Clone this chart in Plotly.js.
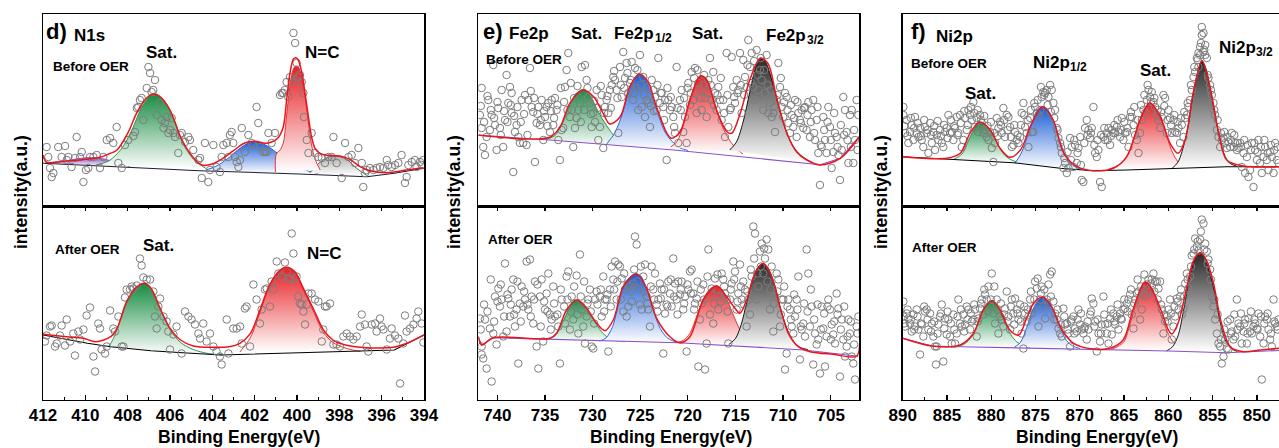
<!DOCTYPE html>
<html>
<head>
<meta charset="utf-8">
<script src="https://cdn.plot.ly/plotly-3.0.1.min.js"></script>
<style>html,body{margin:0;padding:0;background:#fff;}#chart{width:1279px;height:448px;}</style>
</head>
<body>
<div id="chart"></div>
<script>
// ---------------- N1s (panel d) ----------------
const dTopX = [411.83,411.75,411.67,411.59,411.51,411.28,411.12,410.96,410.88,410.80,
410.65,410.49,410.41,410.25,410.17,410.09,409.97,409.86,409.78,409.62,
409.46,409.31,409.15,408.99,408.83,408.68,408.52,408.44,408.28,408.13,
407.97,407.73,407.65,407.57,407.50,407.42,407.34,407.26,407.10,407.02,
406.94,406.87,406.79,406.71,406.63,406.47,406.39,406.31,406.24,406.16,
406.08,406.00,405.92,405.84,405.76,405.61,405.53,405.45,405.29,405.13,
405.06,404.90,404.66,404.58,404.50,404.35,404.19,404.11,403.95,403.80,
403.64,403.56,403.48,403.32,403.24,403.17,403.09,403.01,402.93,402.85,
402.77,402.69,402.61,402.46,402.30,402.14,402.06,401.91,401.83,401.75,
401.59,401.51,401.43,401.35,401.20,401.04,400.80,400.72,400.65,400.57,
400.49,400.41,400.33,400.25,400.17,400.09,400.02,399.94,399.86,399.78,
399.70,399.67,399.54,399.46,399.31,399.15,398.99,398.83,398.68,398.52,
398.36,398.28,398.13,397.89,397.73,397.57,397.42,397.26,397.10,396.94,
396.87,396.79,396.71,396.55,396.39,396.24,396.08,395.92,395.76,395.69,
395.53,395.37,395.21,395.06,394.90,394.82,394.74,394.58,394.43,394.35,
394.19,394.11,394.03];
const dTopY = [59,49,38,29,33,59,49,60,46,49,
39,48,69,49,54,24,36,38,49,49,
51,38,49,66,68,63,79,43,38,61,
66,70,74,98,99,106,108,86,118,139,
133,114,116,126,91,103,86,78,83,89,
73,76,88,73,69,53,71,73,64,69,
66,56,46,48,28,63,24,36,61,39,
34,49,61,63,49,71,74,63,49,44,
39,46,78,54,71,63,61,99,83,59,
54,54,54,73,63,73,111,113,113,116,
124,109,129,124,173,163,143,129,131,124,
113,89,66,53,73,53,49,48,43,49,
49,69,43,28,63,49,51,43,58,43,
19,33,36,38,36,38,39,38,46,41,
39,41,43,51,23,29,41,44,46,39,
44,41,46];
const dTopBaseX = [412.0,409.3,404.6,399.9,398.3,396.7,395.4,394.0];
const dTopBaseY = [42.7,40,35.3,32,30.3,29.3,32.7,37.7];
const dTopPurpleX = [411.9,411.0,410.3,409.7,409.1,408.5,407.9];
const dTopPurpleY = [43,45,47.5,48.5,47,43,39.5];
const dTopSatX = [409.5,408.9,408.3,407.8,407.3,406.8,406.3,405.8,405.4,404.9,404.3];
const dTopSatY = [41,45,57,76,100,112,106,86,63,47,37.5];
const dTopBlueX = [404.3,403.8,403.3,402.8,402.3,402.0,401.7,401.4,401.0,400.6,400.2,399.8,399.4,399.0];
const dTopBlueY = [36,40,47,56,63,64.5,63,60,54,48,42,37.5,34.5,32.5];
const dTopNCX = [401.02,400.98,400.8,400.65,400.49,400.33,400.17,400.06,399.94,399.78,399.62,399.46,399.31,399.15,398.9];
const dTopNCY = [34,52,56,63,91,121,137,140,139,129,109,83,61,47,36];
const dTopSmallX = [399.4,398.9,398.5,398.0,397.6,397.2,396.7];
const dTopSmallY = [33,44,49,49.5,46,38,30.5];
const dTopEnvX = [412.0,411.85,411.0,410.0,409.3,408.9,408.5,408.0,407.5,407.0,406.75,406.5,406.0,405.5,405.0,404.5,404.0,403.5,403.0,402.5,402.0,401.5,401.2,400.9,400.65,400.49,400.33,400.17,400.06,399.94,399.78,399.62,399.46,399.31,399.15,398.91,398.6,397.97,397.5,397.02,396.55,395.76,394.82,394.03];
const dTopEnvY = [51,44,44.7,46.7,48.7,52,56,72.7,96,110,112,110,96,69,51,41,42,47.7,55.3,62.7,64.7,62.7,64,68,79,106,133,147,148.3,146,134,112.7,89,69,57.7,52.7,50.7,50,46.7,39.3,35.3,33.3,36,38.3];

const dBotX = [411.91,411.83,411.67,411.59,411.43,411.35,411.20,411.12,410.96,410.88,
410.72,410.57,410.49,410.33,410.25,410.09,409.94,409.78,409.62,409.54,
409.39,409.31,409.23,409.07,408.99,408.83,408.68,408.60,408.44,408.28,
408.20,408.13,408.05,407.89,407.81,407.73,407.57,407.42,407.34,407.26,
407.10,406.94,406.79,406.71,406.63,406.55,406.47,406.31,406.16,406.08,
406.00,405.84,405.69,405.45,405.29,405.13,404.98,404.82,404.66,404.58,
404.43,404.27,404.11,403.95,403.80,403.64,403.56,403.32,403.24,403.01,
402.85,402.69,402.61,402.46,402.38,402.22,402.06,401.91,401.75,401.67,
401.51,401.43,401.28,401.20,401.12,400.96,400.88,400.72,400.57,400.49,
400.41,400.33,400.25,400.17,400.09,400.02,399.94,399.86,399.78,399.70,
399.62,399.54,399.46,399.31,399.15,398.99,398.83,398.76,398.68,398.60,
398.44,398.28,398.13,397.97,397.81,397.65,397.50,397.34,397.18,397.02,
396.94,396.79,396.71,396.63,396.47,396.31,396.24,396.08,396.00,395.92,
395.76,395.61,395.53,395.37,395.21,395.13,394.98,394.90,394.82,394.66,
394.50,394.35,394.27,394.11,394.03];
const dBotY = [58,64,73,74,53,56,64,74,54,80,
58,66,44,68,60,70,84,92,43,28,
76,71,50,46,53,89,71,68,83,53,
53,102,110,110,113,111,114,141,134,122,
120,120,108,83,71,93,101,83,78,68,
50,65,73,46,88,83,80,75,66,61,
76,58,66,53,48,43,35,80,46,71,
71,73,56,91,93,53,115,100,76,90,
110,111,93,118,110,138,126,123,137,128,
121,120,166,146,121,123,103,96,95,88,
75,95,106,106,100,98,58,70,93,93,
96,55,55,53,63,66,63,60,63,73,
85,75,53,48,75,76,68,81,73,70,
50,61,71,64,61,16,56,84,68,71,
75,81,88,76,57];
const dBotBaseX = [412.0,409.9,408.8,406.9,405.4,403.6,399.9,395.4,394.0];
const dBotBaseY = [64.5,56.2,52.8,48.8,46.8,44.5,46.8,49.5,64.5];
const dBotSatX = [408.9,408.7,408.5,408.05,407.6,407.2,406.9,406.5,406.0,405.5,404.9,404.2,403.5];
const dBotSatY = [52.5,60,70,96,111,116,111,92,70,57,50,46,44.6];
const dBotNCX = [402.7,402.2,401.75,401.3,400.8,400.5,400.1,399.7,399.2,398.75,398.3,397.65,397.0];
const dBotNCY = [47.5,62,87,113,129,132,127,110,87,67,57,51,48];
const dBotEnvX = [412.0,410.9,410.1,409.5,408.8,408.5,408.05,407.6,407.2,406.9,406.5,406.0,405.5,404.9,403.95,403.2,402.7,402.2,401.75,401.3,400.8,400.5,400.1,399.7,399.2,398.75,398.3,397.65,396.7,395.45,394.8,394.0];
const dBotEnvY = [65.2,62.8,61.2,57.8,62.8,71.2,97.8,112,116.2,111.2,92.8,71.2,59.5,53.5,52.2,52.8,56.2,66.2,89.5,114.5,129.5,132.2,127.8,111.2,89.5,69.5,59.5,54.2,51.8,52.2,56.2,64.5];

// ---------------- Fe2p (panel e) ----------------
const eTopX = [741.83,741.65,741.65,741.48,741.30,741.13,740.95,740.78,740.60,740.43,
740.25,740.08,739.90,739.73,739.55,739.38,739.20,739.03,738.85,738.68,
738.50,738.50,738.33,738.15,737.98,737.80,737.63,737.45,737.28,737.10,
736.93,736.75,736.58,736.40,736.23,736.05,735.88,735.70,735.53,735.35,
735.18,735.00,734.83,734.65,734.48,734.30,734.13,733.95,733.78,733.60,
733.43,733.25,733.08,732.90,732.73,732.55,732.38,732.20,732.03,731.85,
731.68,731.50,731.33,731.15,730.98,730.80,730.63,730.45,730.28,730.10,
729.93,729.75,729.58,729.40,729.23,729.05,728.88,728.70,728.53,728.35,
728.18,728.00,727.83,727.65,727.48,727.30,727.13,726.95,726.78,726.60,
726.43,726.25,726.08,725.90,725.73,725.55,725.38,725.20,725.03,724.85,
724.68,724.50,724.33,724.15,723.98,723.80,723.63,723.45,723.28,723.10,
722.93,722.75,722.58,722.40,722.23,722.05,721.88,721.70,721.53,721.35,
721.18,721.00,720.83,720.65,720.48,720.30,720.13,719.95,719.78,719.60,
719.43,719.25,719.08,718.90,718.73,718.55,718.38,718.20,718.03,717.85,
717.68,717.50,717.33,717.15,716.98,716.80,716.63,716.45,716.28,716.10,
715.93,715.75,715.58,715.40,715.23,715.05,714.88,714.70,714.53,714.35,
714.18,714.00,713.83,713.65,713.48,713.30,713.13,712.95,712.78,712.60,
712.43,712.25,712.08,711.90,711.73,711.55,711.38,711.20,711.03,710.85,
710.68,710.50,710.33,710.15,709.98,709.80,709.63,709.45,709.28,709.10,
708.93,708.75,708.58,708.40,708.23,708.05,707.88,707.70,707.53,707.35,
707.18,707.00,706.83,706.65,706.48,706.30,706.13,705.95,705.78,705.60,
705.43,705.25,705.08,704.90,704.73,704.55,704.38,704.20,704.03,703.85,
703.68,703.50,703.33,703.15,702.98,702.80,702.63,702.45,702.28,702.10];
const eTopY = [91,118,78,59,51,69,106,76,91,141,
81,56,98,78,116,59,86,131,103,119,
113,93,34,74,81,69,63,106,63,111,
61,106,138,99,94,44,83,99,81,106,
66,89,99,103,74,106,81,108,96,66,
46,76,78,119,136,153,89,96,59,78,
88,96,103,139,113,141,126,109,103,79,
93,84,116,66,79,111,58,99,106,93,
116,121,129,126,116,73,139,109,154,128,
143,113,123,144,106,138,118,96,151,99,
129,89,106,103,79,126,116,109,96,148,
103,113,99,106,46,106,96,99,89,73,
139,63,106,116,74,89,63,123,101,134,
106,138,93,123,116,96,121,108,89,126,
148,106,134,113,96,119,106,86,106,69,
153,79,96,149,119,103,126,116,153,93,
146,129,119,166,139,153,119,106,156,116,
136,126,96,113,151,93,103,89,93,74,
106,143,119,99,89,113,109,83,73,91,
79,106,69,93,86,96,78,99,76,104,
69,96,106,66,86,53,21,59,89,66,
53,99,79,38,54,73,69,51,26,56,
109,96,74,43,91,96,43,66,106,91];
// second, interleaved set of Fe2p readings (shared energies for both scans)
const eX2 = [741.74,741.39,741.04,740.69,740.34,739.99,739.64,739.29,738.94,738.59,738.24,737.89,737.54,737.19,736.84,736.49,736.14,735.79,735.44,735.09,734.74,
734.39,734.04,733.69,733.34,732.99,732.64,732.29,731.94,731.59,731.24,730.89,730.54,730.19,729.84,729.49,729.14,728.79,728.44,728.09,727.74,727.39,
727.04,726.69,726.34,725.99,725.64,725.29,724.94,724.59,724.24,723.89,723.54,723.19,722.84,722.49,722.14,721.79,721.44,721.09,
720.74,720.39,720.04,719.69,719.34,718.99,718.64,718.29,717.94,717.59,717.24,716.89,716.54,716.19,715.84,715.49,715.14,
714.79,714.44,714.09,713.74,713.39,713.04,712.69,712.34,711.99,711.64,711.29,710.94,710.59,710.24,709.89,709.54,709.19,708.84,
708.49,708.14,707.79,707.44,707.09,706.74,706.39,706.04,705.69,705.34,704.99,704.64,704.29,703.94,703.59,703.24,702.89,702.54,702.19];
const eTopY2 = [100,84,110,96,88,104,71,95,84,101,90,99,84,92,71,115,108,92,86,95,80,
95,88,101,118,104,96,123,108,120,84,96,118,92,105,98,120,93,110,98,135,108,
121,118,133,126,113,136,121,111,118,100,95,121,113,86,118,109,79,98,
96,108,118,113,128,136,108,131,113,121,101,111,128,93,111,98,109,
113,121,111,141,123,145,131,148,136,121,116,99,111,128,104,96,101,88,
104,83,98,91,84,73,99,61,76,84,66,93,59,81,71,66,59,76,56];
const eTopBaseX = [742,734.5,721.5,711.0,706.1,704.0,702.0];
const eTopBaseY = [70.7,66,56,46,41.3,47.7,69.3];
const eTopSatAX = [735.0,734.0,733.2,732.4,731.7,731.0,730.3,729.6,728.9,728.2,727.4,726.5,725.6];
const eTopSatAY = [66.5,70,82,101,113,116,111,98,86,76,66,61.5,59.5];
const eTopP12X = [728.6,728.2,727.8,727.1,726.4,725.7,725.1,724.5,723.8,723.1,722.4,721.7,720.9,720.0];
const eTopP12Y = [61,66,71,86,108,126,132,127,111,91,74,65,58.5,55.5];
const eTopSatBX = [721.8,721.1,720.4,719.8,719.2,718.7,718.1,717.5,716.9,716.3,715.7,715.0,714.2];
const eTopSatBY = [59,65,84,104,122,130,127,113,94,78,67,58,52];
const eTopP32X = [715.6,714.9,714.2,713.5,712.9,712.4,711.9,711.3,710.7,710.0,709.3,708.6,707.8,707.0];
const eTopP32Y = [56,64,84,114,138,148,145,130,108,84,66,55,48,43.5];
const eTopEnvX = [742,734.5,733.4,732.4,731.0,729.9,728.9,728.2,727.1,726.1,725.1,724.2,723.3,722.2,721.7,720.8,719.8,718.7,718.0,717.0,715.9,715.4,714.5,713.5,712.4,711.6,710.7,709.6,708.6,707.5,706.1,704.0,702.0];
const eTopEnvY = [71,68.7,79.3,102.7,116,109.3,92.7,82,89.3,119.3,132,124.3,99.3,72.7,67.7,74.3,106,130,126,96,74.3,72.7,92.7,126,147.7,142.7,109.3,72.7,54.3,46,41,47.7,69.3];

const eBotX = [741.83,741.65,741.65,741.48,741.30,741.13,740.78,740.60,740.43,740.25,
740.08,739.90,739.73,739.55,739.38,739.20,739.03,738.85,738.68,738.50,
738.33,738.15,737.98,737.80,737.63,737.45,737.28,737.10,736.93,736.75,
736.58,736.40,736.23,736.05,735.88,735.70,735.53,735.35,735.18,735.00,
734.83,734.65,734.48,734.30,734.13,733.95,733.60,733.43,733.25,732.90,
732.73,732.55,732.38,732.20,732.03,731.85,731.68,731.50,731.33,731.15,
730.98,730.80,730.63,730.45,730.28,730.10,729.93,729.75,729.58,729.23,
729.05,728.88,728.70,728.53,728.35,728.18,728.00,727.83,727.65,727.48,
727.30,727.13,726.95,726.78,726.60,726.43,726.25,726.08,725.90,725.73,
725.55,725.38,725.20,725.03,724.85,724.68,724.50,724.33,724.15,723.98,
723.80,723.63,723.45,723.28,723.10,722.93,722.75,722.58,722.40,722.23,
722.05,721.88,721.70,721.53,721.35,721.18,721.00,720.83,720.65,720.48,
720.30,720.13,719.95,719.78,719.60,719.43,719.25,719.08,718.90,718.73,
718.55,718.38,718.20,718.03,717.85,717.68,717.50,717.33,717.15,716.98,
716.80,716.63,716.45,716.28,716.10,715.93,715.75,715.58,715.40,715.23,
715.05,714.88,714.70,714.53,714.35,714.18,714.00,713.83,713.65,713.48,
713.30,713.13,712.95,712.78,712.60,712.43,712.25,712.08,711.90,711.73,
711.55,711.38,711.20,711.03,710.85,710.68,710.50,710.33,710.15,709.98,
709.80,709.63,709.45,709.28,709.10,708.93,708.75,708.58,708.40,708.23,
708.05,707.88,707.70,707.53,707.35,707.18,707.00,706.83,706.65,706.48,
706.30,706.13,705.95,705.78,705.60,705.43,705.25,705.08,704.90,704.73,
704.55,704.38,704.20,704.03,703.85,703.68,703.50,703.33,703.15,702.98,
702.80,702.63,702.45,702.28,702.10];
const eBotY = [81,53,45,41,80,31,71,18,66,103,
55,111,93,100,63,136,68,101,83,110,
120,73,90,36,96,113,93,100,138,90,
140,103,76,118,53,31,103,120,58,90,
106,126,85,80,113,83,73,36,100,76,
123,128,70,103,80,96,124,66,145,90,
73,56,83,100,110,53,51,100,108,103,
83,123,100,100,48,110,133,120,138,100,
135,133,121,88,110,83,93,113,98,116,
163,155,110,95,90,123,135,103,90,73,
133,110,126,95,100,116,110,46,86,95,
118,106,93,141,116,100,118,105,118,90,
103,48,110,128,130,106,96,101,33,80,
96,115,30,56,150,85,111,76,121,110,
90,103,126,120,106,100,56,100,116,138,
128,90,106,135,100,118,110,73,100,85,
123,173,166,100,113,148,156,126,141,160,
150,90,133,68,103,126,120,73,100,100,
30,46,100,90,73,66,83,100,123,40,
70,76,63,150,126,73,93,35,66,55,
60,26,93,71,33,63,100,90,75,65,
56,106,91,23,80,60,43,53,80,66,
43,36,20,73,83];
const eBotY2 = [70,95,88,120,78,98,115,83,105,95,85,118,78,108,95,83,100,115,73,98,88,
70,96,85,110,93,100,88,113,85,103,118,96,88,76,95,110,88,105,93,110,118,
100,126,115,108,130,118,133,108,96,113,100,88,101,110,93,120,103,85,
110,96,115,106,90,118,110,100,123,106,96,125,98,113,88,110,120,
98,113,95,108,130,141,126,133,151,118,110,96,108,85,113,93,80,105,
90,73,96,88,110,80,95,70,86,93,60,78,85,70,93,63,78,55,66];
const eBotBaseX = [742,741.65,740.43,734.5,721,707.8,702.1];
const eBotBaseY = [62.8,54.5,61.8,60.2,56.8,49.5,43.3];
const eBotSatAX = [734.7,733.9,733.1,732.4,731.7,731.0,730.3,729.6,728.9,728.2,727.4,726.6];
const eBotSatAY = [60.3,64,78,92,99.5,96,86,75,66,61,58.5,57.8];
const eBotP12X = [729.3,728.6,727.9,727.2,726.5,725.6,725.0,724.3,723.6,722.9,722.2,721.4,720.6];
const eBotP12Y = [58.5,61.5,73,98,118,125.5,124,110,89,71,62,58,56.5];
const eBotSatBX = [721.3,720.5,719.8,719.0,718.3,717.6,717.0,716.4,715.8,715.2,714.6,713.9,713.2,712.4];
const eBotSatBY = [56.8,59,66,85,102,111,113.5,109,98,84,71,60,55.5,53.5];
const eBotP32X = [715.7,715.0,714.4,713.8,713.2,712.6,712.1,711.5,710.9,710.3,709.6,708.9,708.2,707.4];
const eBotP32Y = [55,61,75,98,120,133,136,130,115,92,71,58,52,50];
const eBotEnvX = [742,741.65,740.43,734.48,733.78,732.73,731.68,730.63,729.58,728.70,727.83,726.78,725.38,724.33,723.28,721.88,720.83,719.78,718.38,716.98,715.93,715.05,714.53,713.83,712.95,712.08,711.20,710.33,709.45,708.40,707.18,704.73,702.28,702.0];
const eBotEnvY = [62.8,54.5,61.8,61.2,66.2,89.5,99.5,91.2,76.2,68.8,79.5,112.8,125.5,111.2,81.2,62.8,56.8,62.8,99.5,113.5,102.8,91.2,86.2,99.5,126.2,136.2,122.8,92.8,66.2,52.8,47.8,45.2,43.5,71.2];

// ---------------- Ni2p (panel f) ----------------
const fTopX = [889.92,889.92,889.74,889.55,889.36,889.17,888.98,888.79,888.61,888.42,
888.23,888.04,887.85,887.67,887.48,887.29,887.10,886.91,886.72,886.54,
886.35,886.16,885.97,885.78,885.59,885.41,885.22,885.03,884.84,884.65,
884.46,884.28,884.09,883.90,883.71,883.52,883.33,883.15,882.96,882.77,
882.58,882.39,882.20,882.02,881.83,881.64,881.45,881.26,881.07,880.89,
880.70,880.51,880.32,880.13,879.94,879.76,879.57,879.38,879.19,879.00,
878.81,878.63,878.44,878.25,878.06,877.87,877.68,877.50,877.31,877.12,
876.93,876.74,876.56,876.37,876.18,875.99,875.80,875.61,875.43,875.24,
875.05,874.86,874.67,874.48,874.30,874.11,873.92,873.73,873.54,873.35,
873.17,872.98,872.79,872.60,872.41,872.22,872.04,871.85,871.66,871.47,
871.28,871.09,870.91,870.72,870.53,870.34,870.15,869.96,869.78,869.59,
869.40,869.21,869.02,868.83,868.65,868.46,868.27,868.08,867.89,867.71,
867.52,867.33,867.14,866.95,866.76,866.58,866.39,866.20,866.01,865.82,
865.63,865.45,865.26,865.07,864.88,864.69,864.50,864.32,864.13,863.94,
863.75,863.56,863.37,863.19,863.00,862.81,862.62,862.43,862.24,862.06,
861.87,861.68,861.49,861.30,861.11,860.93,860.74,860.55,860.36,860.17,
859.98,859.80,859.61,859.42,859.23,859.04,858.85,858.67,858.48,858.29,
858.10,857.91,857.73,857.54,857.35,857.16,856.97,856.78,856.60,856.41,
856.22,856.03,855.84,855.65,855.47,855.28,855.09,854.90,854.71,854.52,
854.34,854.15,853.96,853.77,853.58,853.39,853.21,853.02,852.83,852.64,
852.45,852.26,852.08,851.89,851.70,851.51,851.32,851.13,850.95,850.76,
850.57,850.38,850.19,850.00,849.82,849.63,849.44,849.25,849.06,848.87,
848.69,848.50,848.31,848.12,847.93,847.74,847.56,856.41,856.22,856.03,
856.60,855.84];
const fTopY = [99,91,73,86,63,74,81,66,89,73,
69,78,66,59,79,73,53,83,63,74,
56,71,66,76,63,59,74,78,91,73,
74,66,78,89,73,91,59,66,88,76,
96,91,86,104,79,88,74,91,83,73,
76,69,66,74,58,44,63,88,78,84,
73,98,69,91,89,79,59,61,74,66,
63,69,93,103,79,73,59,88,74,74,
99,93,91,96,109,114,113,116,109,121,
116,103,96,78,68,63,53,38,43,33,
38,68,59,39,61,43,58,69,26,24,
78,86,76,68,78,99,53,49,56,24,
19,69,66,73,78,61,76,73,73,79,
74,69,88,66,73,74,59,89,89,81,
71,66,53,73,86,96,93,106,116,109,
114,104,99,91,86,78,89,111,108,73,
96,88,73,86,74,73,78,63,81,69,
88,91,99,106,116,129,134,148,153,151,
179,173,161,148,128,121,111,103,91,76,
69,59,66,68,63,58,64,59,73,59,
63,56,58,63,39,53,33,49,29,36,
63,19,56,46,66,43,33,49,59,46,
36,54,49,33,63,46,43,159,171,154,
139,151];
// second, interleaved set of Ni2p readings (shared energies for both scans)
const fX2 = [889.83,889.46,889.08,888.70,888.32,887.94,887.57,887.19,886.81,886.44,
886.06,885.68,885.31,884.93,884.56,884.18,883.80,883.43,883.05,882.67,
882.30,881.92,881.54,881.17,880.79,880.41,880.04,879.66,879.28,878.91,
878.53,878.16,877.78,877.40,877.03,876.65,876.27,875.89,875.52,875.14,
874.76,874.39,874.01,873.63,873.26,872.88,872.51,872.13,871.75,871.38,
871.00,870.62,870.25,869.87,869.49,869.12,868.74,868.36,867.99,867.61,
867.23,866.86,866.48,866.10,865.73,865.35,864.97,864.60,864.22,863.84,
863.47,863.09,862.71,862.34,861.96,861.58,861.21,860.83,860.45,860.08,
859.70,859.32,858.95,858.57,858.20,857.82,857.44,857.07,856.69,856.32,
855.94,855.56,855.19,854.81,854.43,854.06,853.68,853.31,852.93,852.55,
852.18,851.80,851.42,851.05,850.67,850.29,849.92,849.54,849.16,848.78,
848.41,848.03,847.65];
const fTopY2 = [80,70,88,78,83,70,86,76,71,80,
85,70,81,68,86,80,71,83,95,81,
99,93,96,86,90,80,84,73,70,81,
86,76,69,81,71,81,91,86,96,103,
106,119,111,101,94,88,76,59,48,54,
46,66,53,41,63,71,73,61,66,71,
78,66,70,81,86,76,84,78,94,99,
86,101,111,121,104,108,96,94,100,86,
81,91,84,88,94,103,121,139,146,163,
156,131,116,96,86,73,74,69,66,71,
63,59,66,61,56,63,54,59,66,53,
61,56,59];
const fTopBaseX = [890,883.5,877.5,872.2,868.5,864.7,859.4,853.4,847.5];
const fTopBaseY = [49.3,46,43.3,37.7,35.3,36,37.7,39.3,39.3];
const fTopSatAX = [884.2,883.3,882.5,881.8,881.3,880.7,880.0,879.3,878.5,877.7,876.9];
const fTopSatAY = [46.8,52,67,79,84,81,74,62,51,46,43.5];
const fTopP12X = [877.3,876.6,875.9,875.2,874.6,874.2,873.7,873.0,872.3,871.6,870.8,870.0];
const fTopP12Y = [43,53,70,88,97.5,99.3,97,86,66,50,40.5,37];
const fTopSatBX = [866.8,865.6,864.7,863.9,863.2,862.5,862.1,861.6,860.9,860.2,859.5,858.8,858.0];
const fTopSatBY = [36.5,41,49,67,86,100,103,99,88,70,53,43,38.5];
const fTopP32X = [859.6,858.9,858.1,857.6,857.2,856.7,856.2,855.7,855.3,854.8,854.3,853.7,853.1,852.3];
const fTopP32Y = [37.5,44,66,88,112,133,145,136,119,95,72,52,43,40];
const fTopEnvX = [890,885.0,883.5,882.4,881.3,880.1,879.0,877.9,876.7,875.6,874.2,873.0,871.8,870.3,868.5,866.2,864.7,863.2,862.1,860.9,859.8,858.9,858.1,857.2,856.2,855.3,854.3,853.4,851.5,847.5];
const fTopEnvY = [49.3,47.7,52.7,72.7,84,76,57.7,48.7,56,79.3,99.3,86,52.7,39.3,35.3,37.7,49.3,86,103.3,89.3,62.7,52.7,66,112.7,145.3,119.3,72.7,46,40,39.3];

const fBotX = [889.92,889.92,889.74,889.55,889.36,889.17,888.98,888.79,888.61,888.42,
888.23,888.04,887.85,887.67,887.48,887.29,887.10,886.91,886.72,886.54,
886.35,886.24,886.16,885.97,885.78,885.59,885.41,885.22,885.03,884.84,
884.65,884.46,884.28,884.09,883.90,883.71,883.52,883.33,883.15,882.96,
882.77,882.58,882.39,882.20,882.02,881.83,881.64,881.45,881.26,881.07,
880.89,880.70,880.51,880.32,880.13,879.94,879.76,879.57,879.38,879.19,
879.00,878.81,878.63,878.44,878.25,878.06,877.87,877.68,877.50,877.31,
877.12,876.93,876.74,876.56,876.37,876.18,875.99,875.80,875.61,875.43,
875.24,875.05,874.86,874.67,874.48,874.30,874.11,873.92,873.73,873.54,
873.35,873.17,872.98,872.79,872.60,872.41,872.22,872.04,871.85,871.66,
871.47,871.28,871.09,870.91,870.72,870.53,870.34,870.15,869.96,869.78,
869.59,869.40,869.21,869.02,868.83,868.65,868.46,868.27,868.08,867.89,
867.71,867.52,867.33,867.14,866.95,866.76,866.58,866.39,866.20,866.01,
865.82,865.63,865.45,865.26,865.07,864.88,864.69,864.50,864.32,864.13,
863.94,863.75,863.56,863.37,863.19,863.00,862.81,862.62,862.43,862.24,
862.06,861.87,861.68,861.49,861.30,861.11,860.93,860.74,860.55,860.36,
860.17,859.98,859.80,859.61,859.42,859.23,859.04,858.85,858.67,858.48,
858.29,858.10,857.91,857.73,857.54,857.35,857.16,856.97,856.78,856.60,
856.41,856.22,856.03,855.84,855.65,855.47,855.28,855.09,854.90,854.71,
854.52,854.34,854.15,853.96,853.77,853.58,853.39,853.21,853.02,852.83,
852.64,852.45,852.26,852.08,851.89,851.70,851.51,851.32,851.13,850.95,
850.76,850.57,850.38,850.19,850.00,849.82,849.63,849.44,849.25,849.06,
848.87,848.69,848.50,848.31,848.12,847.93,847.74,847.56];
const fBotY = [98,83,73,86,81,76,68,85,73,90,
70,45,75,63,88,90,70,86,76,63,
53,35,53,75,83,95,38,81,65,80,
63,56,85,56,66,100,76,73,85,75,
93,90,70,78,80,90,63,81,91,100,
85,105,100,113,93,126,86,76,100,66,
83,80,73,91,108,83,70,100,86,101,
90,80,95,66,51,86,78,83,100,86,
91,118,111,73,100,113,93,81,100,115,
125,128,98,86,80,71,66,63,91,75,
76,66,53,80,83,71,68,90,75,70,
66,73,60,70,85,101,96,78,48,66,
58,75,103,75,66,56,81,65,86,75,
83,70,86,80,90,91,96,100,105,85,
71,100,106,108,80,90,105,103,115,120,
108,120,126,118,118,111,118,90,66,78,
83,90,100,60,73,83,101,90,103,85,
91,116,126,111,123,144,146,161,153,149,
160,180,176,156,148,140,130,103,93,80,
66,56,53,36,43,60,51,50,80,68,
60,63,100,76,73,56,68,80,56,81,
68,66,73,76,71,86,63,20,56,83,
80,70,60,53,100,76,73,80];
const fBotY2 = [76,90,80,70,83,76,93,80,68,78,
66,86,71,88,76,70,83,90,68,80,
86,95,78,96,110,88,100,113,90,96,
85,78,93,75,86,78,93,90,108,100,
121,106,110,95,103,80,90,75,83,70,
78,66,80,86,71,78,88,73,80,66,
85,76,90,78,95,81,100,88,110,96,
120,113,125,110,116,108,100,95,85,78,
86,93,98,110,103,120,133,150,158,168,
150,136,120,100,85,60,70,78,66,85,
70,86,76,66,88,80,70,83,76,86,
66,78,70];
const fBotBaseX = [890,886.7,883.5,870,860,853.4,847.5];
const fBotBaseY = [61.2,53.5,52.8,50.5,48.5,46.8,49];
const fBotSatAX = [883.6,882.8,882.0,881.3,880.6,879.9,879.2,878.5,877.8,877.1,876.4,875.6];
const fBotSatAY = [53,57,66,82,95,99,92,78,65,57.5,54,52];
const fBotP12X = [877.4,876.7,876.0,875.3,874.6,874.1,873.6,872.9,872.2,871.5,870.8,870.0];
const fBotP12Y = [52.3,57,72,90,100,102,99,88,71,59,53.5,51];
const fBotSatBX = [866.5,865.7,865.0,864.3,863.6,863.0,862.5,861.9,861.3,860.6,859.9,859.2,858.5,857.7];
const fBotSatBY = [50,53,58,76,98,113,117,111,97,79,64,55,51,49];
const fBotP32X = [860.2,859.5,858.9,858.3,857.7,857.1,856.5,856.0,855.4,854.8,854.2,853.6,852.9,852.2];
const fBotP32Y = [48.5,53,64,88,118,138,146.5,144,129,108,80,60,51,48];
const fBotEnvX = [890,886.7,883.5,882.0,880.9,879.9,879.0,877.9,876.9,876.0,875.1,874.1,873.2,872.0,870.7,868.5,866.6,865.1,864.0,862.8,862.4,861.7,860.7,860.0,859.6,858.9,857.9,857.2,856.4,855.7,854.9,854.0,853.0,851.5,849.6,847.5];
const fBotEnvY = [61.2,53.5,54.5,66.2,89.5,98.8,89.5,69.5,64.5,81.2,97.8,102.2,92.8,69.5,56.2,50.5,51.2,59.5,89.5,116.2,116.8,107.8,86.2,69.5,65.5,76.2,112.8,137.8,146.8,139.5,116.2,76.2,52.8,47.8,49.5,51.2];

// ---------------- text ----------------
const xTitle = 'Binding Energy(eV)';
const yTitle = 'intensity(a.u.)';

// ---------------- styling / build ----------------
const FONT = 'Liberation Sans, Arial, Helvetica, sans-serif';
const C = {
  green: 'rgb(22,140,66)', blue: 'rgb(24,92,215)', red: 'rgb(232,32,36)',
  black: 'rgb(40,40,40)', purple: 'rgb(140,80,205)', env: 'rgb(236,20,28)',
  pts: 'rgb(125,125,125)'
};
const traces = [];
function peak(x, y, xa, ya, col, lineCol, lw) {
  traces.push({
    x: x, y: y, xaxis: xa, yaxis: ya, type: 'scatter', mode: 'lines',
    line: {color: lineCol || col, width: lw || 0.9, shape: 'spline', smoothing: 0.9},
    fill: 'toself',
    fillgradient: {type: 'vertical', colorscale: [[0, 'rgba(255,255,255,1)'], [1, col]]},
    hoverinfo: 'skip', showlegend: false
  });
}
function line(x, y, xa, ya, col, w, shape) {
  traces.push({x: x, y: y, xaxis: xa, yaxis: ya, type: 'scatter', mode: 'lines',
    line: {color: col, width: w, shape: shape || 'linear', smoothing: 0.9}, hoverinfo: 'skip', showlegend: false});
}
function pts(x, y, xa, ya) {
  traces.push({x: x, y: y, xaxis: xa, yaxis: ya, type: 'scatter', mode: 'markers',
    marker: {symbol: 'circle-open', size: 7.5, color: C.pts, line: {width: 1}}, hoverinfo: 'skip', showlegend: false});
}
const ENV_W = 1.5;

// d top
peak(dTopPurpleX, dTopPurpleY, 'x', 'y', C.purple);
peak(dTopSatX, dTopSatY, 'x', 'y', C.green);
peak(dTopBlueX, dTopBlueY, 'x', 'y', C.blue);
peak(dTopSmallX, dTopSmallY, 'x', 'y', 'rgb(175,175,175)', 'rgb(60,60,60)', 0.8);
peak(dTopNCX, dTopNCY, 'x', 'y', C.red);
line(dTopBaseX, dTopBaseY, 'x', 'y', 'rgb(30,30,50)', 1.1);
pts(dTopX, dTopY, 'x', 'y');
line(dTopEnvX, dTopEnvY, 'x', 'y', C.env, ENV_W, 'spline');
// d bottom
peak(dBotSatX, dBotSatY, 'x2', 'y2', C.green);
peak(dBotNCX, dBotNCY, 'x2', 'y2', C.red);
line(dBotBaseX, dBotBaseY, 'x2', 'y2', '#000', 1.1);
pts(dBotX, dBotY, 'x2', 'y2');
line(dBotEnvX, dBotEnvY, 'x2', 'y2', C.env, ENV_W, 'spline');
// e top
peak(eTopSatAX, eTopSatAY, 'x3', 'y3', C.green);
peak(eTopP12X, eTopP12Y, 'x3', 'y3', C.blue);
peak(eTopSatBX, eTopSatBY, 'x3', 'y3', C.red);
peak(eTopP32X, eTopP32Y, 'x3', 'y3', C.black, '#000');
line(eTopBaseX, eTopBaseY, 'x3', 'y3', C.purple, 1.1);
pts(eTopX, eTopY, 'x3', 'y3');
pts(eX2, eTopY2, 'x3', 'y3');
line(eTopEnvX, eTopEnvY, 'x3', 'y3', C.env, ENV_W, 'spline');
// e bottom
peak(eBotSatAX, eBotSatAY, 'x4', 'y4', C.green);
peak(eBotP12X, eBotP12Y, 'x4', 'y4', C.blue);
peak(eBotSatBX, eBotSatBY, 'x4', 'y4', C.red);
peak(eBotP32X, eBotP32Y, 'x4', 'y4', C.black, '#000');
line(eBotBaseX, eBotBaseY, 'x4', 'y4', C.purple, 1.1);
pts(eBotX, eBotY, 'x4', 'y4');
pts(eX2, eBotY2, 'x4', 'y4');
line(eBotEnvX, eBotEnvY, 'x4', 'y4', C.env, ENV_W, 'spline');
// f top
peak(fTopSatAX, fTopSatAY, 'x5', 'y5', C.green);
peak(fTopP12X, fTopP12Y, 'x5', 'y5', C.blue);
peak(fTopSatBX, fTopSatBY, 'x5', 'y5', C.red);
peak(fTopP32X, fTopP32Y, 'x5', 'y5', C.black, '#000');
line(fTopBaseX, fTopBaseY, 'x5', 'y5', '#000', 1.1);
pts(fTopX, fTopY, 'x5', 'y5');
pts(fX2, fTopY2, 'x5', 'y5');
line(fTopEnvX, fTopEnvY, 'x5', 'y5', C.env, ENV_W, 'spline');
// f bottom
peak(fBotSatAX, fBotSatAY, 'x6', 'y6', C.green);
peak(fBotP12X, fBotP12Y, 'x6', 'y6', C.blue);
peak(fBotSatBX, fBotSatBY, 'x6', 'y6', C.red);
peak(fBotP32X, fBotP32Y, 'x6', 'y6', C.black, '#000');
line(fBotBaseX, fBotBaseY, 'x6', 'y6', C.purple, 1.1);
pts(fBotX, fBotY, 'x6', 'y6');
pts(fX2, fBotY2, 'x6', 'y6');
line(fBotEnvX, fBotEnvY, 'x6', 'y6', C.env, ENV_W, 'spline');

const W = 1279, H = 448;
const colX = {d: [43, 424], e: [478.3, 859.3], f: [902.7, 1279]};
const rowY = {top: [14, 206], bot: [206, 399.5]};
function dom(a) { return [a[0] / W, Math.min(1, a[1] / W)]; }
function vdom(a) { return [1 - a[1] / H, 1 - a[0] / H]; }
const tickFont = {family: FONT, size: 17, color: '#000', weight: 700};
function xTop(col, range, yName) {
  return {domain: dom(colX[col]), range: range, anchor: yName, showline: true, linecolor: '#000', linewidth: 1.5,
    mirror: true, ticks: '', showticklabels: false, showgrid: false, zeroline: false, fixedrange: true};
}
function xBot(col, range, yName, dtick, minorD) {
  const ax = {domain: dom(colX[col]), range: range, anchor: yName, showline: true, linecolor: '#000', linewidth: 1.5,
    mirror: 'ticks', ticks: 'inside', ticklen: 4.5, tickwidth: 1.3, tickcolor: '#000', tick0: 0, dtick: dtick,
    showgrid: false, zeroline: false, tickfont: tickFont, fixedrange: true};
  if (minorD) ax.minor = {ticks: 'inside', ticklen: 2.5, tickwidth: 1, tickcolor: '#000', dtick: minorD, showgrid: false};
  return ax;
}
function yAx(row, xName, range, mirror) {
  return {domain: vdom(rowY[row]), range: range, anchor: xName, showline: true, linecolor: '#000', linewidth: 1.5,
    mirror: mirror, ticks: '', showticklabels: false, showgrid: false, zeroline: false, fixedrange: true};
}

function ann(text, px, py, size, extra) {
  return Object.assign({text: text, x: px / W, y: 1 - py / H, xref: 'paper', yref: 'paper', showarrow: false,
    xanchor: 'center', yanchor: 'middle', font: {family: FONT, size: size, color: '#000', weight: 700}}, extra || {});
}
const L = {xanchor: 'left'};
const annotations = [
  ann('d)', 56, 32, 22), ann('N1s', 89, 35, 17), ann('Sat.', 161, 52, 17), ann('N=C', 322, 52, 17),
  ann('Before OER', 91, 66, 13.5),
  ann('After OER', 87, 249, 13.5), ann('Sat.', 158, 245, 17), ann('N=C', 324, 253, 17),
  ann('e)', 493, 32, 22), ann('Fe2p', 529, 33, 17), ann('Sat.', 586, 34, 17),
  ann('Fe2p', 612, 33, 17, L), ann('1/2', 652.5, 38, 12, L),
  ann('Sat.', 707, 34, 17),
  ann('Fe2p', 764, 35, 17, L), ann('3/2', 804.5, 40, 12, L),
  ann('Before OER', 524, 59, 13.5),
  ann('After OER', 520, 239, 13.5),
  ann('f)', 918, 32, 22), ann('Ni2p', 954, 36, 17), ann('Before OER', 949, 63, 13.5), ann('Sat.', 981, 93, 17),
  ann('Ni2p', 1031, 62, 17, L), ann('1/2', 1067.5, 67, 12, L),
  ann('Sat.', 1155, 71, 17),
  ann('Ni2p', 1217, 47, 17, L), ann('3/2', 1253.5, 52, 12, L),
  ann('After OER', 944, 247, 13.5),
  ann(yTitle, 21, 192, 17.5, {textangle: -90}), ann(yTitle, 454, 192, 17.5, {textangle: -90}), ann(yTitle, 881, 192, 17.5, {textangle: -90}),
  ann(xTitle, 239, 437, 17.5), ann(xTitle, 671, 437, 17.5), ann(xTitle, 1097, 437, 17.5)
];

const layout = {
  width: W, height: H, margin: {l: 0, r: 0, t: 0, b: 0}, paper_bgcolor: '#fff', plot_bgcolor: '#fff',
  showlegend: false, hovermode: false, font: {family: FONT},
  xaxis: xTop('d', [412, 394], 'y'), yaxis: yAx('top', 'x', [0, 192], true),
  xaxis2: xBot('d', [412, 394], 'y2', 2, 1), yaxis2: yAx('bot', 'x2', [0, 193.5], true),
  xaxis3: xTop('e', [742, 702], 'y3'), yaxis3: yAx('top', 'x3', [0, 192], true),
  xaxis4: xBot('e', [742, 702], 'y4', 5, null), yaxis4: yAx('bot', 'x4', [0, 193.5], true),
  xaxis5: xTop('f', [890, 847.5], 'y5'), yaxis5: yAx('top', 'x5', [0, 192], false),
  xaxis6: xBot('f', [890, 847.5], 'y6', 5, 2.5), yaxis6: yAx('bot', 'x6', [0, 193.5], false),
  annotations: annotations
};
Plotly.newPlot('chart', traces, layout, {staticPlot: true, displayModeBar: false});
</script>
</body>
</html>
